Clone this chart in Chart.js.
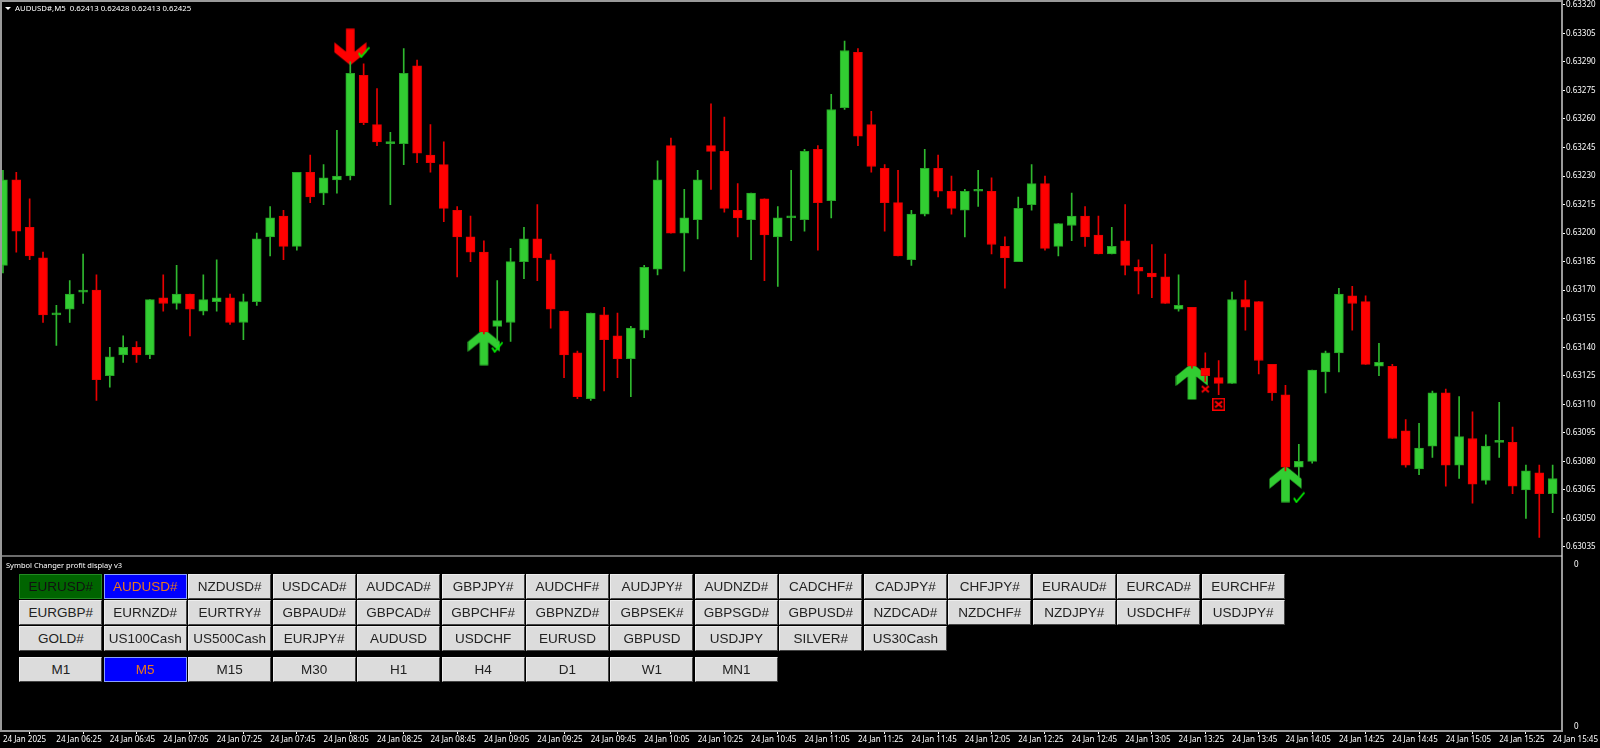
<!DOCTYPE html>
<html>
<head>
<meta charset="utf-8">
<title>AUDUSD#,M5</title>
<script src="https://cdn.jsdelivr.net/npm/chart.js@4"></script>
<style>
html, body { margin: 0; padding: 0; background: #000; overflow: hidden; }
#wrap { position: relative; width: 1600px; height: 748px; }
canvas { position: absolute; left: 0; top: 0; }
.label { position: absolute; color: #fff; font: 8px "Noto Sans", sans-serif; white-space: pre; line-height: 10px; }
.tri { position: absolute; left: 5px; top: 7px; width: 0; height: 0; border-left: 3px solid transparent; border-right: 3px solid transparent; border-top: 3px solid #fff; }
.btn { position: absolute; box-sizing: border-box; width: 83px; height: 25px; background: #dcdcdc; color: #222;
  border: 1px solid; border-color: #eee #444 #444 #eee; text-align: center; font: 13.5px/23px "Liberation Sans", sans-serif; }
.btn.green { background: #006400; border-color: #228b22; color: #111; }
.btn.blue { background: #0000ff; border-color: #8aa0ff; color: #e8761e; }
</style>
</head>
<body>
<div id="wrap">
  <canvas id="chart" width="1600" height="748"></canvas>
  <div class="tri"></div>
  <div class="label" style="left:15px;top:3px;font-size:7.8px">AUDUSD#,M5  0.62413 0.62428 0.62413 0.62425</div>
  <div class="label" style="left:6px;top:560px;font-size:7.5px">Symbol Changer profit display v3</div>
  <div id="buttons"></div>
</div>
<script>
const opens = [
  0.63183,0.63228,0.63203,0.63187,0.63157,0.63160,0.63169,0.63170,0.63125,0.63136,
  0.63140,0.63136,0.63166,0.63163,0.63168,0.63159,0.63164,0.63166,0.63153,0.63164,
  0.63198,0.63209,0.63193,0.63232,0.63221,0.63228,0.63230,0.63283,0.63257,0.63247,
  0.63247,0.63288,0.63241,0.63236,0.63212,0.63198,0.63190,0.63151,0.63153,0.63185,
  0.63197,0.63186,0.63159,0.63137,0.63113,0.63157,0.63146,0.63134,0.63149,0.63181,
  0.63246,0.63200,0.63207,0.63246,0.63243,0.63212,0.63207,0.63218,0.63198,0.63208,
  0.63207,0.63244,0.63217,0.63266,0.63295,0.63257,0.63234,0.63216,0.63186,0.63210,
  0.63234,0.63222,0.63212,0.63222,0.63222,0.63193,0.63185,0.63215,0.63226,0.63193,
  0.63204,0.63209,0.63199,0.63189,0.63196,0.63182,0.63179,0.63177,0.63160,0.63161,
  0.63129,0.63124,0.63121,0.63165,0.63164,0.63131,0.63115,0.63077,0.63080,0.63127,
  0.63137,0.63167,0.63164,0.63130,0.63130,0.63096,0.63076,0.63088,0.63116,0.63078,
  0.63092,0.63070,0.63090,0.63090,0.63065,0.63074,0.63063];
const highs = [
  0.63233,0.63232,0.63218,0.63190,0.63162,0.63175,0.63189,0.63178,0.63140,0.63146,
  0.63143,0.63165,0.63178,0.63183,0.63168,0.63178,0.63186,0.63168,0.63168,0.63200,
  0.63214,0.63212,0.63232,0.63241,0.63236,0.63254,0.63290,0.63289,0.63276,0.63253,
  0.63297,0.63291,0.63257,0.63248,0.63214,0.63209,0.63196,0.63175,0.63192,0.63203,
  0.63215,0.63189,0.63159,0.63138,0.63158,0.63161,0.63158,0.63151,0.63183,0.63238,
  0.63250,0.63223,0.63233,0.63268,0.63261,0.63226,0.63221,0.63218,0.63214,0.63233,
  0.63244,0.63246,0.63273,0.63301,0.63297,0.63264,0.63236,0.63233,0.63212,0.63244,
  0.63241,0.63230,0.63223,0.63233,0.63229,0.63198,0.63219,0.63236,0.63230,0.63205,
  0.63221,0.63214,0.63209,0.63203,0.63215,0.63186,0.63194,0.63189,0.63178,0.63161,
  0.63137,0.63133,0.63169,0.63175,0.63164,0.63131,0.63120,0.63089,0.63128,0.63138,
  0.63171,0.63172,0.63167,0.63142,0.63131,0.63102,0.63100,0.63117,0.63118,0.63114,
  0.63106,0.63094,0.63111,0.63098,0.63078,0.63078,0.63078];
const lows = [
  0.63179,0.63190,0.63186,0.63153,0.63141,0.63153,0.63163,0.63112,0.63119,0.63132,
  0.63132,0.63134,0.63159,0.63160,0.63146,0.63157,0.63159,0.63152,0.63144,0.63162,
  0.63188,0.63186,0.63191,0.63216,0.63215,0.63221,0.63228,0.63257,0.63246,0.63215,
  0.63236,0.63237,0.63232,0.63206,0.63177,0.63185,0.63147,0.63143,0.63143,0.63176,
  0.63175,0.63150,0.63124,0.63113,0.63112,0.63117,0.63124,0.63114,0.63145,0.63178,
  0.63200,0.63180,0.63197,0.63223,0.63211,0.63198,0.63186,0.63175,0.63172,0.63196,
  0.63201,0.63191,0.63208,0.63265,0.63246,0.63232,0.63201,0.63188,0.63183,0.63209,
  0.63219,0.63210,0.63198,0.63214,0.63189,0.63171,0.63185,0.63212,0.63191,0.63188,
  0.63196,0.63193,0.63189,0.63189,0.63178,0.63168,0.63166,0.63163,0.63159,0.63129,
  0.63122,0.63115,0.63121,0.63149,0.63126,0.63112,0.63075,0.63072,0.63079,0.63116,
  0.63127,0.63149,0.63131,0.63125,0.63092,0.63077,0.63073,0.63082,0.63067,0.63071,
  0.63058,0.63068,0.63082,0.63063,0.63050,0.63040,0.63053];
const closes = [
  0.63228,0.63201,0.63188,0.63157,0.63158,0.63168,0.63170,0.63123,0.63135,0.63140,
  0.63136,0.63165,0.63163,0.63168,0.63160,0.63165,0.63166,0.63153,0.63164,0.63197,
  0.63208,0.63193,0.63232,0.63219,0.63229,0.63230,0.63284,0.63258,0.63248,0.63248,
  0.63284,0.63242,0.63237,0.63213,0.63198,0.63190,0.63148,0.63154,0.63185,0.63197,
  0.63187,0.63160,0.63136,0.63114,0.63158,0.63144,0.63134,0.63150,0.63182,0.63228,
  0.63200,0.63208,0.63228,0.63243,0.63213,0.63208,0.63221,0.63199,0.63208,0.63208,
  0.63243,0.63216,0.63265,0.63296,0.63251,0.63235,0.63216,0.63188,0.63210,0.63234,
  0.63222,0.63213,0.63222,0.63222,0.63194,0.63187,0.63213,0.63226,0.63192,0.63205,
  0.63209,0.63198,0.63189,0.63193,0.63183,0.63180,0.63177,0.63163,0.63162,0.63130,
  0.63125,0.63121,0.63165,0.63161,0.63133,0.63116,0.63077,0.63080,0.63128,0.63137,
  0.63168,0.63163,0.63131,0.63132,0.63092,0.63078,0.63087,0.63116,0.63078,0.63093,
  0.63068,0.63088,0.63090,0.63067,0.63075,0.63063,0.63071];

const priceTicks = [0.63320,0.63305,0.63290,0.63275,0.63260,0.63245,0.63230,0.63215,0.63200,0.63185,
  0.63170,0.63155,0.63140,0.63125,0.63110,0.63095,0.63080,0.63065,0.63050,0.63035];
const timeLabels = ['24 Jan 2025','24 Jan 06:25','24 Jan 06:45','24 Jan 07:05','24 Jan 07:25','24 Jan 07:45',
  '24 Jan 08:05','24 Jan 08:25','24 Jan 08:45','24 Jan 09:05','24 Jan 09:25','24 Jan 09:45','24 Jan 10:05',
  '24 Jan 10:25','24 Jan 10:45','24 Jan 11:05','24 Jan 11:25','24 Jan 11:45','24 Jan 12:05','24 Jan 12:25',
  '24 Jan 12:45','24 Jan 13:05','24 Jan 13:25','24 Jan 13:45','24 Jan 14:05','24 Jan 14:25','24 Jan 14:45',
  '24 Jan 15:05','24 Jan 15:25','24 Jan 15:45'];
const barsPerLabel = 4;

// signals: bar index and price
const upArrows = [{x: 36, y: 0.63140}, {x: 89, y: 0.63122}, {x: 96, y: 0.63068}];
const downArrows = [{x: 26, y: 0.63298}];
const checks = [{x: 27, y: 0.63295}, {x: 37, y: 0.63140}, {x: 97, y: 0.63061}];
const crosses = [{x: 90, y: 0.63118}];
const boxedCrosses = [{x: 91, y: 0.63110}];

const symbolRows = [
  ['EURUSD#','AUDUSD#','NZDUSD#','USDCAD#','AUDCAD#','GBPJPY#','AUDCHF#','AUDJPY#','AUDNZD#','CADCHF#','CADJPY#','CHFJPY#','EURAUD#','EURCAD#','EURCHF#'],
  ['EURGBP#','EURNZD#','EURTRY#','GBPAUD#','GBPCAD#','GBPCHF#','GBPNZD#','GBPSEK#','GBPSGD#','GBPUSD#','NZDCAD#','NZDCHF#','NZDJPY#','USDCHF#','USDJPY#'],
  ['GOLD#','US100Cash','US500Cash','EURJPY#','AUDUSD','USDCHF','EURUSD','GBPUSD','USDJPY','SILVER#','US30Cash']
];
const timeframes = ['M1','M5','M15','M30','H1','H4','D1','W1','MN1'];

const GREEN = '#32cd32';
const RED = '#ff0000';

function addButton(text, left, top, cls) {
    const b = document.createElement('div');
    b.className = 'btn' + (cls ? ' ' + cls : '');
    b.style.left = left + 'px';
    b.style.top = top + 'px';
    b.textContent = text;
    document.getElementById('buttons').appendChild(b);
}
symbolRows.forEach(function (row, r) {
    row.forEach(function (s, i) {
        let cls = '';
        if (r === 0 && i === 0) cls = 'green';
        if (r === 0 && i === 1) cls = 'blue';
        addButton(s, 19.3 + i * 84.45, 574.3 + r * 26, cls);
    });
});
timeframes.forEach(function (t, i) {
    addButton(t, 19.3 + i * 84.45, 657, t === 'M5' ? 'blue' : '');
});

function icon(w, h, draw) {
    const c = document.createElement('canvas');
    c.width = w;
    c.height = h;
    draw(c.getContext('2d'));
    return c;
}
function arrowIcon(color, up) {
    return icon(33, 37, function (ctx) {
        if (!up) { ctx.translate(0, 37); ctx.scale(1, -1); }
        ctx.fillStyle = color;
        ctx.beginPath();
        [[16.5,0],[32.5,13],[32.5,23],[20.8,13.5],[20.8,36.5],[12.2,36.5],[12.2,13.5],[0.5,23],[0.5,13]]
            .forEach(function (p, i) { i ? ctx.lineTo(p[0], p[1]) : ctx.moveTo(p[0], p[1]); });
        ctx.closePath();
        ctx.fill();
    });
}
const checkIcon = icon(12, 12, function (ctx) {
    ctx.strokeStyle = '#00f000';
    ctx.lineWidth = 1.8;
    ctx.beginPath();
    ctx.moveTo(1, 6.5); ctx.lineTo(3.5, 10.5); ctx.lineTo(11.5, 1);
    ctx.stroke();
});
function crossIcon(boxed) {
    const s = boxed ? 13 : 9;
    return icon(s, s, function (ctx) {
        ctx.strokeStyle = RED;
        ctx.lineWidth = 2;
        const m = s / 2;
        ctx.beginPath();
        ctx.moveTo(m - 3.5, m - 3); ctx.lineTo(m + 3.5, m + 3);
        ctx.moveTo(m + 3.5, m - 3); ctx.lineTo(m - 3.5, m + 3);
        ctx.stroke();
        if (boxed) { ctx.lineWidth = 1.5; ctx.strokeRect(0.75, 0.75, s - 1.5, s - 1.5); }
    });
}

const wicks = opens.map(function (o, i) { return {x: i, y: [lows[i], highs[i]]}; });
const bodies = opens.map(function (o, i) { return {x: i, y: [o, closes[i]]}; });
function candleColor(ctx, up, down) {
    const i = ctx.dataIndex;
    return closes[i] >= opens[i] ? up : down;
}
function markers(data, style, order) {
    return {type: 'scatter', data: data, pointStyle: style, pointRadius: 6, order: order, yAxisID: 'y'};
}
function noPad(s) {
    s.paddingLeft = 0;
    s.paddingRight = 0;
    s.paddingTop = 0;
    s.paddingBottom = 0;
}

const framePlugin = {
    id: 'frame',
    beforeDatasetsDraw(chart) {
        const a = chart.chartArea, ctx = chart.ctx, y = chart.scales.y;
        ctx.save();
        ctx.strokeStyle = '#9a9a9a';
        ctx.lineWidth = 2;
        ctx.strokeRect(a.left - 1, a.top - 1, a.right - a.left + 1, a.bottom - a.top + 1);
        ctx.strokeStyle = '#d8d8d8';
        ctx.lineWidth = 1;
        ctx.beginPath();
        ctx.moveTo(a.left, y.bottom + 0.5);
        ctx.lineTo(a.right, y.bottom + 0.5);
        ctx.stroke();
        ctx.restore();
    }
};

new Chart(document.getElementById('chart'), {
    data: {
        datasets: [
            {type: 'bar', data: wicks, barThickness: 1, grouped: false, order: 2, yAxisID: 'y',
             backgroundColor: function (ctx) { return candleColor(ctx, '#2fb82f', '#e80000'); }},
            {type: 'bar', data: bodies, barThickness: 9, grouped: false, order: 1, yAxisID: 'y', minBarLength: 2,
             borderWidth: 1, borderSkipped: false,
             backgroundColor: function (ctx) { return candleColor(ctx, GREEN, RED); },
             borderColor: function (ctx) { return candleColor(ctx, '#26a326', '#e60000'); }},
            markers(upArrows, arrowIcon(GREEN, true), 5),
            markers(downArrows, arrowIcon(RED, false), 5),
            markers(checks, checkIcon, 0),
            markers(crosses, crossIcon(false), 0),
            markers(boxedCrosses, crossIcon(true), 0)
        ]
    },
    options: {
        responsive: false,
        animation: false,
        layout: {autoPadding: false, padding: {left: 2, top: 2, right: 0, bottom: 0}},
        plugins: {legend: {display: false}, tooltip: {enabled: false}},
        scales: {
            x: {
                type: 'linear', min: -0.07, max: 116.7, offset: false,
                afterBuildTicks: function (s) { s.ticks = timeLabels.map(function (t, i) { return {value: i * barsPerLabel}; }); },
                afterFit: function (s) { s.height = 17; noPad(s); },
                grid: {drawOnChartArea: false, color: '#fff', tickLength: 3, drawTicks: true},
                border: {display: false},
                ticks: {
                    color: '#fff', font: {family: 'Noto Sans', size: 8}, align: 'start', maxRotation: 0, autoSkip: false, padding: 1,
                    callback: function (v) { return timeLabels[v / barsPerLabel]; }
                }
            },
            y: {
                position: 'right', stack: 'pane', stackWeight: 553.5, min: 0.630305, max: 0.633215,
                afterBuildTicks: function (s) { s.ticks = priceTicks.map(function (v) { return {value: v}; }); },
                afterFit: function (s) { s.width = 38; noPad(s); },
                grid: {drawOnChartArea: false, color: '#fff', tickLength: 3},
                border: {display: false},
                ticks: {color: '#fff', font: {family: 'Noto Sans', size: 8}, padding: 1, callback: function (v) { return v.toFixed(5); }}
            },
            ySub: {
                position: 'right', stack: 'pane', stackWeight: 175.5, min: -0.025, max: 1.059,
                afterBuildTicks: function (s) { s.ticks = [{value: 1}, {value: 0}]; },
                afterFit: function (s) { s.width = 38; noPad(s); },
                grid: {display: false},
                border: {display: false},
                ticks: {color: '#fff', font: {family: 'Noto Sans', size: 8}, padding: 4, callback: function () { return '0'; }}
            }
        }
    },
    plugins: [framePlugin]
});
</script>
</body>
</html>
